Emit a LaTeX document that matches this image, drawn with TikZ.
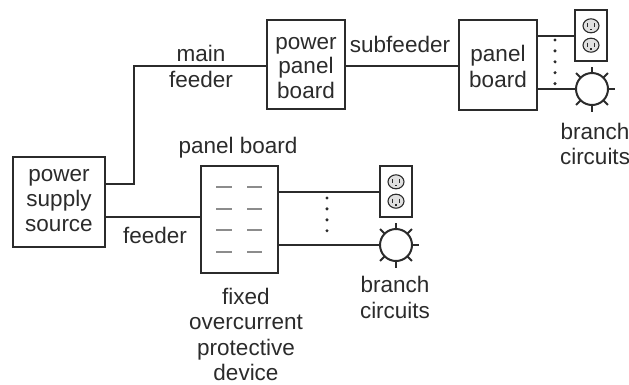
\documentclass[tikz,border=0pt]{standalone}
\usepackage{fontspec}
\setmainfont{Liberation Sans}
\usetikzlibrary{calc}
\definecolor{ink}{gray}{0.17}
\definecolor{dash}{gray}{0.55}
\tikzset{
  every node/.style={outer sep=0pt},
  box/.style={draw=ink,line width=2pt,fill=white,minimum width=#1,inner sep=0pt},
  wire/.style={draw=ink,line width=2pt},
  lbl/.style={text=ink,font=\fontsize{22.5}{25.3}\selectfont,align=center,inner sep=0pt},
  dots/.style={draw=ink,line width=3.4pt,line cap=round,dash pattern=on 0pt off 10.9pt},
  lampc/.style={circle,draw=ink,line width=2pt,fill=white,minimum size=32pt,inner sep=0pt},
  outletbox/.style={rectangle,draw=ink,line width=2pt,fill=white,minimum width=32pt,minimum height=51pt,inner sep=0pt},
  face/.style={draw=ink,line width=1.1pt,fill=black!12},
  slot/.style={draw=ink,line width=1.2pt},
  gdash/.style={draw=dash,line width=1.8pt}
}
\newcommand{\myoutlet}[2]{%
  \foreach \dy in {-9.7,9.7}{
    \path[face] ($(#1)+(0,\dy)$) ellipse (8pt and 7pt);
    \draw[slot] ($(#1)+(-3.5,\dy-2.5)$) -- ++(0,4);
    \draw[slot] ($(#1)+(3.5,\dy-2.5)$) -- ++(0,4);
    \draw[slot] ($(#1)+(0,\dy+3)$) -- ++(0,1.5);
  }}
\newcommand{\myrays}[1]{%
  \foreach \a in {0,45,...,315}{
    \draw[draw=ink,line width=1.8pt] ($(#1)+(\a:15)$) -- ($(#1)+(\a:22.5)$);
  }}
\begin{document}
\begin{tikzpicture}[x=1pt,y=-1pt]
\useasboundingbox (0,0) rectangle (629,384);
% boxes
\node[box=92pt,minimum height=90pt,anchor=north west] (src) at (13,157) {};
\node[box=78pt,minimum height=89pt,anchor=north west] (ppb) at (267,20) {};
\node[box=78pt,minimum height=90pt,anchor=north west] (pb) at (459,20) {};
\node[box=77pt,minimum height=107pt,anchor=north west] (fix) at (201,166) {};
% outlets and lamps
\node[outletbox] (o1) at (591,35.5) {};
\node[outletbox] (o2) at (396,191.5) {};
\myrays{592,89}
\myrays{396,245}
\node[lampc] (l1) at (592,89) {};
\node[lampc] (l2) at (396,245) {};
\myoutlet{o1}{}
\myoutlet{o2}{}
% wires
\coordinate (bend) at (134,184);
\coordinate (mf) at (134,66);
\draw[wire] (src.east |- bend) -- (bend) -- (mf) -- (ppb.west |- mf);
\draw[wire] (ppb.east |- mf) -- (pb.west |- mf);
\coordinate (fy) at (150,217);
\draw[wire] (src.east |- fy) -- (fix.west |- fy);
\coordinate (r1) at (500,36);
\coordinate (r2) at (500,89);
\draw[wire] (pb.east |- r1) -- (o1.west |- r1);
\draw[wire] (pb.east |- r2) -- (l1.west);
\coordinate (s1) at (300,192);
\draw[wire] (fix.east |- s1) -- (o2.west |- s1);
\draw[wire] (fix.east |- l2) -- (l2.west);
% dotted
\coordinate (d1a) at (555,40); \coordinate (d1b) at (555,84.5);
\coordinate (d2a) at (327,198); \coordinate (d2b) at (327,241.5);
\draw[dots] (d1a) -- (d1b);
\draw[dots] (d2a) -- (d2b);
% breakers
\foreach \y in {187,209,230,252}{
  \draw[gdash] (216,\y) -- (232,\y);
  \draw[gdash] (247,\y) -- (262,\y);
}
% labels
\node[lbl] (t1) at (59,200.5) {power\\supply\\source};
\node[lbl,font=\fontsize{22.5}{24.5}\selectfont] (t2) at (306,68) {power\\panel\\board};
\node[lbl] (t3) at (498,66.5) {panel\\board};
\node[lbl] (t4) at (201,66.5) {main\\feeder};
\node[lbl,anchor=base] (t5) at (400,52) {subfeeder};
\node[lbl,anchor=base] (t6) at (155,243) {feeder};
\node[lbl,anchor=base] (t7) at (238,153) {panel board};
\node[lbl] (t8) at (595,144) {branch\\circuits};
\node[lbl] (t9) at (395,297.5) {branch\\circuits};
\node[lbl] (t10) at (246,334.5) {fixed\\overcurrent\\protective\\device};
\end{tikzpicture}
\end{document}
